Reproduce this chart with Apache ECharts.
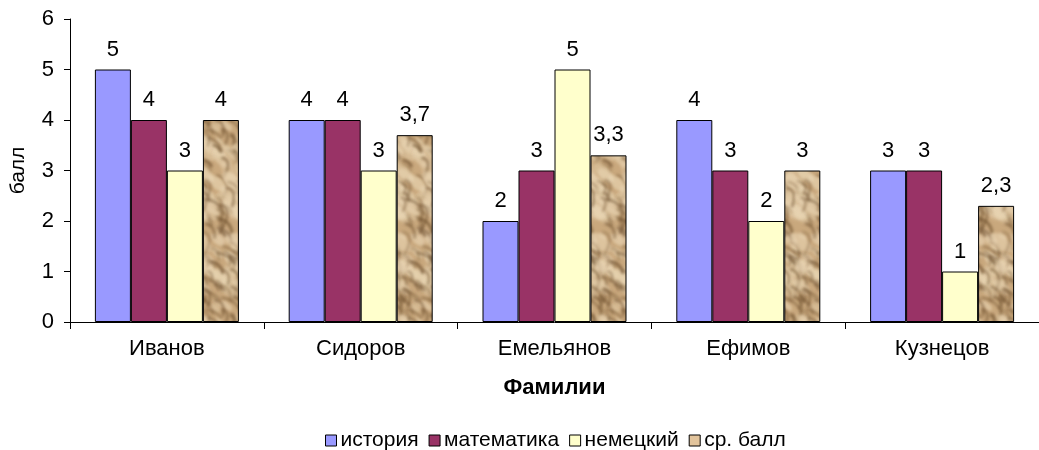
<!DOCTYPE html>
<html>
<head>
<meta charset="utf-8">
<script src="https://cdn.jsdelivr.net/npm/echarts@6/dist/echarts.min.js"></script>
<style>
  html, body { margin: 0; padding: 0; background: #fff; }
  #chart { width: 1039px; height: 450px; }
</style>
</head>
<body>
<div id="chart"></div>
<script>
// Оценки учеников по предметам
const students = ['Иванов', 'Сидоров', 'Емельянов', 'Ефимов', 'Кузнецов'];
const history  = [5, 4, 2, 4, 3];
const maths    = [4, 4, 3, 3, 3];
const german   = [3, 3, 5, 2, 1];
const average  = [4, 3.7, 3.3, 3, 2.3];
const yTicks   = [0, 1, 2, 3, 4, 5, 6];

// Текстура «песчаник» для столбцов среднего балла (бесшовная плитка)
function makeStoneTexture() {
  const W = 40, H = 180;
  const big = document.createElement('canvas');
  big.width = W * 3; big.height = H * 3;
  const g = big.getContext('2d');
  g.fillStyle = '#c9a87d';
  g.fillRect(0, 0, big.width, big.height);
  let s = 98765;
  const rnd = () => { s = (s * 16807) % 2147483647; return s / 2147483647; };
  const shapes = [];
  for (let i = 0; i < 60; i++) {
    shapes.push({ kind: 'blob', x: rnd() * W, y: rnd() * H, r: 3 + rnd() * 7, a: 0.35 + rnd() * 0.4 });
  }
  for (let i = 0; i < 70; i++) {
    shapes.push({ kind: 'crack', x: rnd() * W, y: rnd() * H, len: 8 + rnd() * 18,
                  ang: 0.5 + rnd() * 1.0, a: 0.3 + rnd() * 0.45, w: 1 + rnd() * 2 });
  }
  g.filter = 'blur(1.5px)';
  for (let ox = 0; ox < 3; ox++) {
    for (let oy = 0; oy < 3; oy++) {
      for (const sh of shapes) {
        const x = sh.x + ox * W, y = sh.y + oy * H;
        if (sh.kind === 'blob') {
          g.fillStyle = 'rgba(232,212,178,' + sh.a + ')';
          g.beginPath();
          g.ellipse(x, y, sh.r * 1.4, sh.r * 0.7, 0.7, 0, Math.PI * 2);
          g.fill();
        } else {
          g.strokeStyle = 'rgba(105,75,42,' + sh.a + ')';
          g.lineWidth = sh.w;
          g.beginPath();
          g.moveTo(x, y);
          g.quadraticCurveTo(x + sh.len * 0.6, y + sh.len * 0.1,
                             x + Math.cos(sh.ang) * sh.len, y + Math.sin(sh.ang) * sh.len);
          g.stroke();
        }
      }
    }
  }
  g.filter = 'none';
  const tile = document.createElement('canvas');
  tile.width = W; tile.height = H;
  tile.getContext('2d').drawImage(big, W, H, W, H, 0, 0, W, H);
  return tile;
}
const stone = makeStoneTexture();

const font = 'Liberation Sans, Arial, sans-serif';
const fmt = p => String(p.value).replace('.', ',');

function barSeries(name, data, color) {
  return {
    name, type: 'bar', data,
    barWidth: 36, barGap: '0%',
    itemStyle: { color, borderColor: '#000', borderWidth: 1 },
    label: {
      show: true, position: 'top', distance: 9,
      fontFamily: font, fontSize: 22, color: '#000', formatter: fmt
    }
  };
}

const chart = echarts.init(document.getElementById('chart'));
chart.setOption({
  animation: false,
  backgroundColor: '#fff',
  grid: { left: 69, right: -7, top: 19, bottom: 128, containLabel: false },
  legend: {
    top: 425, left: 320,
    itemWidth: 11, itemHeight: 11, itemGap: 10,
    icon: 'rect',
    textStyle: { fontFamily: font, fontSize: 21, color: '#000', padding: [0, 0, 0, -1] },
    data: [
      { name: 'история', itemStyle: { color: '#9999ff', borderColor: '#000', borderWidth: 1 } },
      { name: 'математика', itemStyle: { color: '#993366', borderColor: '#000', borderWidth: 1 } },
      { name: 'немецкий', itemStyle: { color: '#ffffcc', borderColor: '#000', borderWidth: 1 } },
      { name: 'ср. балл', itemStyle: { color: '#e2c49c', borderColor: '#000', borderWidth: 1 } }
    ]
  },
  xAxis: {
    type: 'category', data: students,
    name: 'Фамилии', nameLocation: 'middle', nameGap: 55,
    nameTextStyle: { fontFamily: font, fontSize: 22, fontWeight: 'bold', color: '#000' },
    axisLine: { lineStyle: { color: '#000', width: 1 } },
    axisTick: { show: true, length: 7, lineStyle: { color: '#000' } },
    axisLabel: { fontFamily: font, fontSize: 22, color: '#000', margin: 16 }
  },
  yAxis: {
    type: 'value', min: yTicks[0], max: yTicks[yTicks.length - 1], interval: 1,
    name: 'балл', nameLocation: 'middle', nameGap: 41, nameRotate: 90,
    nameTextStyle: { fontFamily: font, fontSize: 21, color: '#000' },
    axisLine: { show: true, lineStyle: { color: '#000', width: 1 } },
    axisTick: { show: true, length: 6, lineStyle: { color: '#000' } },
    axisLabel: { fontFamily: font, fontSize: 22, color: '#000', margin: 16 },
    splitLine: { show: false }
  },
  series: [
    barSeries('история', history, '#9999ff'),
    barSeries('математика', maths, '#993366'),
    barSeries('немецкий', german, '#ffffcc'),
    barSeries('ср. балл', average, { image: stone, repeat: 'repeat' })
  ]
});
</script>
</body>
</html>
